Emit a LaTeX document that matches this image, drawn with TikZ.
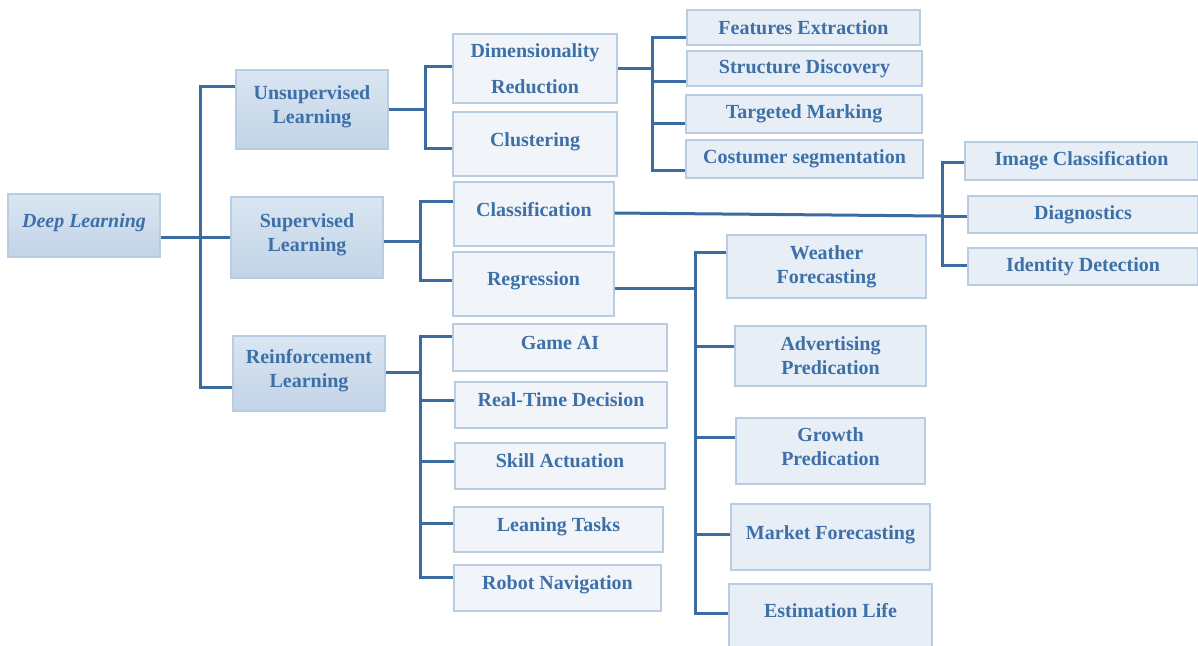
\documentclass[tikz,border=0pt]{standalone}
\usepackage{fontspec}
\setmainfont{Liberation Serif}
\usetikzlibrary{calc}
\definecolor{txtblue}{HTML}{3E70A8}
\definecolor{lineblue}{HTML}{3A6BA1}
\definecolor{edgeblue}{HTML}{B9CDE2}
\definecolor{pale}{HTML}{F1F5FA}
\definecolor{light}{HTML}{E7EEF6}
\definecolor{midtop}{HTML}{D9E5F1}
\definecolor{midbot}{HTML}{C3D4E7}
\begin{document}
\begin{tikzpicture}[x=0.5pt, y=-0.5pt,
          every node/.style = {shape=rectangle, draw=edgeblue, line width=0.6pt, align=center, text=txtblue, inner sep=2pt,
                               font=\fontsize{10}{12}\selectfont\bfseries},
          sz/.style 2 args={minimum width=#1*0.5pt, minimum height=#2*0.5pt},
          lift/.style={text depth=#1}, lift/.default=5pt,
          lvlone/.style={top color=midtop, bottom color=midbot, lift},
          lvltwo/.style={fill=pale},
          lvlthree/.style={fill=light},
          link/.style={draw=lineblue, line width=1.5pt}]
  \useasboundingbox (0,0) rectangle (1198,645);
  % root and first level
  \node[lvlone, sz={152}{63}, font=\fontsize{10}{12}\selectfont\bfseries\itshape] (dl) at (84,225.5) {Deep Learning};
  \node[lvlone, sz={152}{79}] (ul) at (312,109.5) {Unsupervised\\Learning};
  \node[lvlone, sz={152}{81}] (sl) at (307,237.5) {Supervised\\Learning};
  \node[lvlone, sz={152}{75}] (rl) at (309,373.5) {Reinforcement\\Learning};
  % second level
  \node[lvltwo, sz={164}{69}] (dr) at (535,68.5) {Dimensionality\\[6pt]Reduction};
  \node[lvltwo, sz={164}{64}, lift=4pt] (cl) at (535,144) {Clustering};
  \node[lvltwo, sz={160}{64}, lift] (cf) at (534,214) {Classification};
  \node[lvltwo, sz={161}{64}, lift] (rg) at (533.5,284) {Regression};
  \node[lvltwo, sz={214}{47}, lift] (ga) at (560,347.5) {Game AI};
  \node[lvltwo, sz={212}{46}, lift] (rt) at (561,405) {Real-Time Decision};
  \node[lvltwo, sz={210}{46}, lift] (sa) at (560,466) {Skill Actuation};
  \node[lvltwo, sz={209}{45}, lift] (lt) at (558.5,529.5) {Leaning Tasks};
  \node[lvltwo, sz={207}{46}, lift] (rn) at (557.5,588) {Robot Navigation};
  % third level
  \node[lvlthree, sz={233}{35}] (fe) at (803.5,27.5) {Features Extraction};
  \node[lvlthree, sz={235}{35}] (sd) at (804.5,68.5) {Structure Discovery};
  \node[lvlthree, sz={236}{38}] (tm) at (804,114) {Targeted Marking};
  \node[lvlthree, sz={237}{38}] (cs) at (804.5,159) {Costumer segmentation};
  \node[lvlthree, sz={233}{38}] (ic) at (1081.5,161) {Image Classification};
  \node[lvlthree, sz={230}{37}] (dg) at (1083,214.5) {Diagnostics};
  \node[lvlthree, sz={230}{37}] (id) at (1083,266.5) {Identity Detection};
  \node[lvlthree, sz={199}{63}] (wf) at (826.5,266.5) {Weather\\Forecasting};
  \node[lvlthree, sz={191}{60}] (ap) at (830.5,356) {Advertising\\Predication};
  \node[lvlthree, sz={189}{66}, lift=4pt] (gp) at (830.5,451) {Growth\\Predication};
  \node[lvlthree, sz={199}{66}, lift=4pt] (mf) at (830.5,537) {Market Forecasting};
  \node[lvlthree, sz={203}{64}, lift=6pt] (el) at (830.5,616) {Estimation Life};
  % junctions
  \coordinate (j0) at (200,237);
  \coordinate (j1) at ($(ul.east)+(37,0)$);
  \coordinate (j2) at (652,105);
  \coordinate (j3) at (420,241);
  \coordinate (j4) at (942,216);
  \coordinate (j5) at (695,288);
  \coordinate (j6) at (420,372);
  % connectors
  \draw[link] (sl.west) -- (sl.west -| dl.east);
  \draw[link] (j0) |- ($(ul.west)+(0,-23)$);
  \draw[link] (j0) |- ($(rl.west)+(0,13.5)$);
  \draw[link] (ul.east) -- (j1);
  \draw[link] (j1) |- ($(dr.west)+(0,-2.5)$);
  \draw[link] (j1) |- ($(cl.west)+(0,4)$);
  \draw[link] (dr.east) -- (dr.east -| j2);
  \draw[link] ($(cl.east)+(0,-2)$) -- ($(cl.east)+(0,-2)$ -| j2);
  \foreach \n/\dy in {fe/9.5, sd/12.5, tm/9, cs/11}
    \draw[link] ($(\n.west)+(0,\dy)$) -| (j2);
  \draw[link] ($(sl.east)+(0,3.5)$) -- (j3);
  \draw[link] (j3) |- ($(cf.west)+(0,-13)$);
  \draw[link] (j3) |- ($(rg.west)+(0,-4)$);
  \draw[link] ($(cf.east)+(0,-1)$) -- (j4);
  \foreach \n/\dy in {ic/1, dg/1.5, id/-1.5}
    \draw[link] ($(\n.west)+(0,\dy)$) -| (j4);
  \draw[link] ($(rg.east)+(0,4)$) -- (j5);
  \foreach \n/\dy in {wf/-14.5, ap/-10, gp/-14, mf/-3, el/-3}
    \draw[link] ($(\n.west)+(0,\dy)$) -| (j5);
  \draw[link] ($(rl.east)+(0,-1.5)$) -- (j6);
  \foreach \n/\dy in {ga/-11.5, rt/-5, sa/-5, lt/-6.5, rn/-11}
    \draw[link] ($(\n.west)+(0,\dy)$) -| (j6);
\end{tikzpicture}
\end{document}
